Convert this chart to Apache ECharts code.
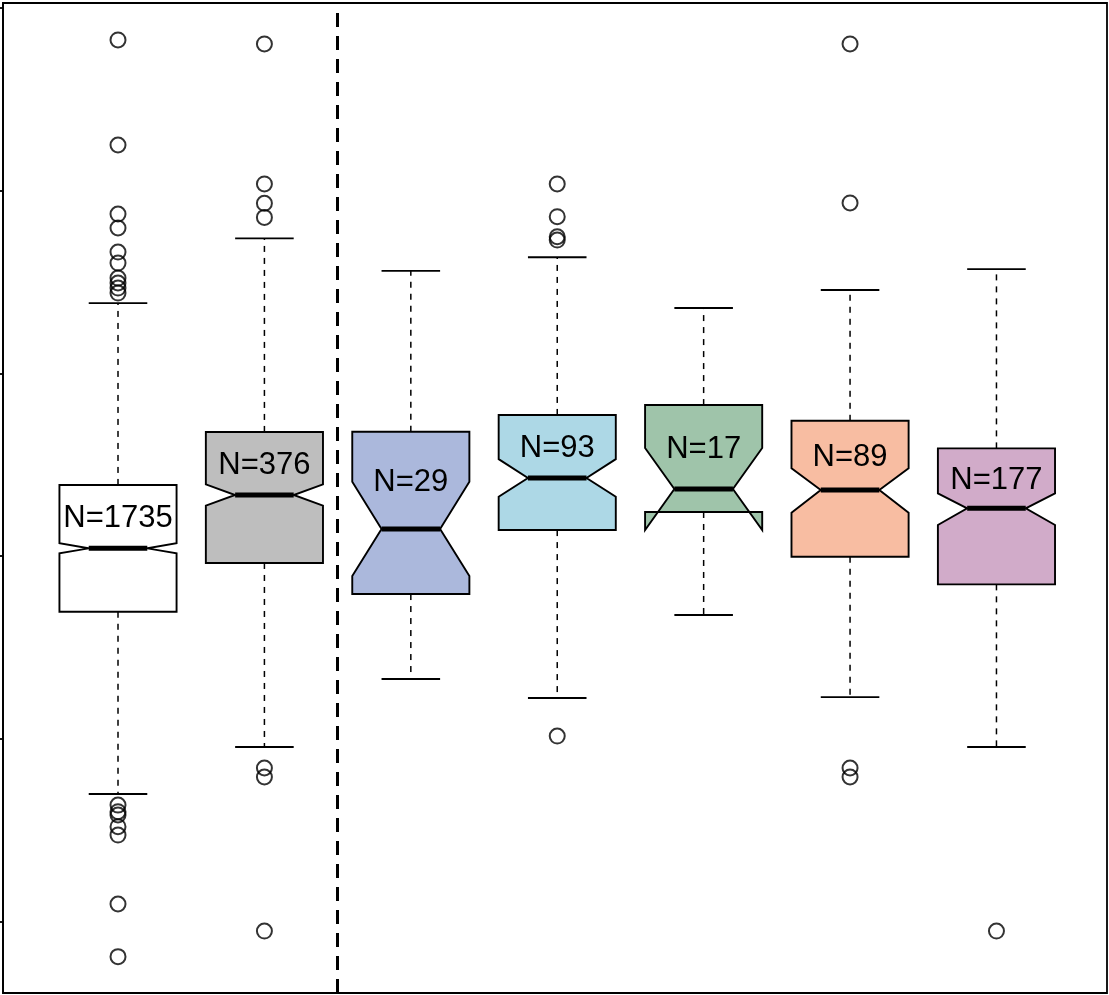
<!DOCTYPE html>
<html style="height: 100%">
<head>
    <meta charset="utf-8">
</head>
<body style="height: 100%; margin: 0; background: #fff">
<div id="container" style="width: 1109px; height: 995px"></div>
<script type="text/javascript" src="https://cdn.jsdelivr.net/npm/echarts@6/dist/echarts.min.js"></script>
<script type="text/javascript">
    // group sizes, shown as N=... inside each box
    var counts = [1735, 376, 29, 93, 17, 89, 177];

    // box statistics, one entry per group
    var lowerWhisker = [0.698, 0.955, 1.327, 1.223, 1.677, 1.228, 0.955];
    var q1 = [1.695, 1.962, 1.792, 2.142, 2.241, 1.996, 1.845];
    var notchLo = [2.015, 2.276, 1.891, 2.324, 2.142, 2.237, 2.170];
    var median = [2.042, 2.334, 2.148, 2.427, 2.367, 2.361, 2.261];
    var notchHi = [2.070, 2.392, 2.407, 2.530, 2.591, 2.480, 2.343];
    var q3 = [2.389, 2.679, 2.680, 2.772, 2.826, 2.740, 2.589];
    var upperWhisker = [3.384, 3.738, 3.560, 3.635, 3.357, 3.456, 3.570];

    // outliers per group
    var outliers = [
        [4.824, 4.249, 3.871, 3.795, 3.663, 3.603, 3.521, 3.494, 3.466, 3.439,
         0.637, 0.601, 0.583, 0.519, 0.473, 0.096, -0.192],
        [4.802, 4.036, 3.930, 3.853, 0.840, 0.791, -0.052],
        [],
        [4.036, 3.857, 3.747, 3.729, 1.015],
        [],
        [4.802, 3.932, 0.840, 0.791],
        [-0.052]
    ];

    var yTicks = [0, 1, 2, 3, 4, 5];
    var separatorAt = 2.5;

    var colors = ['#ffffff', '#bebebe', '#abb8dc', '#add8e6', '#9fc4aa', '#f8bda2', '#d1abc9'];

    var dom = document.getElementById("container");
    var myChart = echarts.init(dom);

    var boxData = counts.map(function (n, i) {
        return [i + 1, lowerWhisker[i], q1[i], notchLo[i], median[i], notchHi[i], q3[i], upperWhisker[i], n];
    });

    var outlierData = [];
    outliers.forEach(function (list, i) {
        list.forEach(function (v) {
            outlierData.push([i + 1, v]);
        });
    });

    var half = 0.4;     // boxwex 0.8
    var stroke = '#000';
    var lw = 1.9;

    function renderBox(params, api) {
        var x = api.value(0);
        var lo = api.value(1), b1 = api.value(2), nl = api.value(3), md = api.value(4),
            nh = api.value(5), b3 = api.value(6), hi = api.value(7), n = api.value(8);
        var c = function (xx, yy) { return api.coord([xx, yy]); };
        var L = x - half, R = x + half, ML = x - half / 2, MR = x + half / 2;
        var capL = x - half / 2, capR = x + half / 2;

        var poly = [
            c(L, b1), c(L, nl), c(ML, md), c(L, nh), c(L, b3),
            c(R, b3), c(R, nh), c(MR, md), c(R, nl), c(R, b1)
        ];
        var dashStyle = { stroke: stroke, lineWidth: 1.5, lineDash: [6, 6] };
        var solid = { stroke: stroke, lineWidth: lw };
        var p = function (a, b) { return { x1: a[0], y1: a[1], x2: b[0], y2: b[1] }; };
        var labelPos = c(x, (b3 + md) / 2);

        return {
            type: 'group',
            children: [
                { type: 'line', shape: p(c(x, b3), c(x, hi)), style: dashStyle },
                { type: 'line', shape: p(c(x, b1), c(x, lo)), style: dashStyle },
                { type: 'line', shape: p(c(capL, hi), c(capR, hi)), style: solid },
                { type: 'line', shape: p(c(capL, lo), c(capR, lo)), style: solid },
                {
                    type: 'polygon',
                    shape: { points: poly },
                    style: { fill: colors[params.dataIndex], stroke: stroke, lineWidth: lw, lineJoin: 'miter' }
                },
                {
                    type: 'line',
                    shape: p(c(ML, md), c(MR, md)),
                    style: { stroke: stroke, lineWidth: 5 }
                },
                {
                    type: 'text',
                    style: {
                        text: 'N=' + n,
                        x: labelPos[0],
                        y: labelPos[1] + 2,
                        align: 'center',
                        verticalAlign: 'middle',
                        fontSize: 31,
                        fontFamily: 'Liberation Sans',
                        fill: '#000'
                    }
                }
            ]
        };
    }

    var option = {
        animation: false,
        backgroundColor: '#fff',
        grid: {
            left: 3, top: 3, right: 2, bottom: 2,
            show: true,
            borderColor: '#000',
            borderWidth: 1.8,
            backgroundColor: '#fff'
        },
        xAxis: {
            type: 'value',
            min: 0.2145,
            max: 7.755,
            axisLine: { show: false },
            axisTick: { show: false },
            axisLabel: { show: false },
            splitLine: { show: false }
        },
        yAxis: {
            type: 'value',
            min: -0.391,
            max: 5.026,
            axisLine: { show: true, lineStyle: { color: '#000', width: 1.8 } },
            axisTick: {
                show: true,
                length: 8,
                lineStyle: { color: '#000', width: 1.8 },
                customValues: yTicks
            },
            axisLabel: { show: false, customValues: yTicks },
            splitLine: { show: false }
        },
        series: [
            {
                type: 'custom',
                renderItem: renderBox,
                data: boxData,
                encode: { x: 0, y: [1, 2, 3, 4, 5, 6, 7] },
                z: 2,
                markLine: {
                    silent: true,
                    symbol: 'none',
                    label: { show: false },
                    lineStyle: { color: '#000', width: 3, type: [14, 9] },
                    data: [{ xAxis: separatorAt }]
                }
            },
            {
                type: 'scatter',
                data: outlierData,
                symbol: 'circle',
                symbolSize: 15,
                itemStyle: { color: 'rgba(0,0,0,0)', borderColor: '#000', borderWidth: 2 },
                z: 3
            }
        ]
    };

    myChart.setOption(option);
</script>
</body>
</html>
